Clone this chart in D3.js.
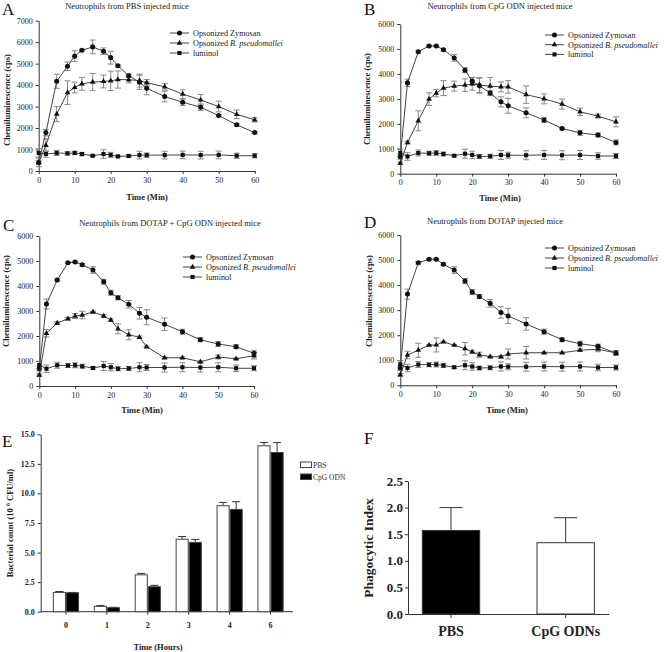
<!DOCTYPE html>
<html><head><meta charset="utf-8">
<script src="https://cdn.jsdelivr.net/npm/d3@7"></script>
<style>body{margin:0;background:#fff}svg{display:block}</style>
</head><body>
<script>
// ---------- DATA ----------
const times = [0,2,5,8,10,12,15,18,20,22,25,28,30,35,40,45,50,55,60];
const timeTicks = [0,10,20,30,40,50,60];
const seriesNames = ["Opsonized Zymosan","Opsonized B. pseudomallei","luminol"];

const zymA    = [400,1790,4180,4880,5350,5620,5780,5580,5280,4900,4440,4130,3850,3470,3200,2970,2580,2150,1790];
const zymAErr = [200,150,330,200,250,50,320,150,300,50,80,330,300,250,150,150,50,50,50];
const bpA     = [400,1200,2650,3650,3890,4060,4140,4170,4200,4260,4250,4210,4110,3920,3580,3310,3000,2640,2380];
const bpAErr  = [100,300,350,550,250,300,400,300,450,400,150,300,150,150,200,250,250,200,100];
const lumA    = [840,790,840,820,840,790,710,790,750,680,700,740,740,740,750,740,750,710,710];
const lumAErr = [200,150,120,80,80,80,40,200,120,50,60,180,100,180,180,180,180,120,100];

const zymB    = [680,3640,4890,5120,5120,4970,4640,4150,3710,3530,3230,2880,2720,2440,2150,1810,1640,1550,1250];
const zymBErr = [100,150,50,30,30,50,130,100,150,300,100,200,300,200,100,50,100,80,100];
const bpB     = [420,1250,2120,2990,3230,3430,3510,3550,3600,3550,3510,3480,3480,3170,3000,2790,2480,2310,2080];
const bpBErr  = [50,50,400,250,150,300,200,250,250,300,350,200,250,350,200,200,150,80,200];

const lum     = [840,690,830,820,830,790,720,800,750,690,700,750,740,740,750,740,750,710,710];
const lumErr  = [150,150,120,80,100,80,50,180,150,80,80,180,120,180,180,180,180,130,100];

const zymC    = [700,3280,4240,4930,4960,4850,4640,4170,3730,3530,3270,2910,2750,2470,2170,1850,1680,1570,1310];
const zymCErr = [100,200,50,30,30,50,130,100,100,80,150,230,300,250,100,80,100,80,100];
const bpC     = [440,2110,2520,2690,2800,2840,2960,2800,2640,2290,2050,1950,1570,1130,1130,970,1160,1090,1210];
const bpCErr  = [50,150,50,50,100,150,30,50,50,200,200,50,30,30,30,30,80,30,130];

const zymD    = [690,3640,4890,5030,5030,4830,4600,4160,3720,3540,3270,2910,2770,2450,2140,1820,1660,1560,1290];
const zymDErr = [100,200,50,30,30,50,130,100,100,80,150,230,300,250,100,80,100,80,100];
const bpD     = [420,1210,1400,1600,1610,1730,1600,1460,1330,1220,1140,1140,1250,1300,1300,1300,1400,1440,1290];
const bpDErr  = [50,150,280,30,280,30,30,250,50,100,30,50,200,250,30,30,50,100,80];

const hours   = ["0","1","2","3","4","6"];
const eGroups = ["PBS","CpG ODN"];
const pbsCount    = [1.63,0.45,3.12,6.13,8.96,14.03];
const pbsCountErr = [0.08,0.08,0.12,0.23,0.28,0.27];
const cpgCount    = [1.60,0.34,2.11,5.86,8.65,13.46];
const cpgCountErr = [0.03,0.03,0.12,0.25,0.65,0.84];
const eTicks = [0,2.5,5,7.5,10,12.5,15];

const fGroups = ["PBS","CpG ODNs"];
const phago    = [1.57,1.34];
const phagoErr = [0.43,0.47];
const fTicks = [0,0.5,1,1.5,2,2.5];

// ---------- DRAW ----------
const SERIF = "'Liberation Serif','Times New Roman',serif";
const svg = d3.select("body").append("svg").attr("width",664).attr("height",652)
  .style("font-family",SERIF);
svg.append("rect").attr("width",664).attr("height",652).attr("fill","#fff");

function styleAxis(sel, fs, bold){
  sel.selectAll("path,line").attr("stroke","#333").attr("stroke-width",1);
  sel.selectAll("text").attr("font-family",SERIF).attr("font-size",fs).attr("fill","#222")
     .attr("font-weight",bold?"bold":"normal");
}

function letter(t,x,y){
  svg.append("text").attr("x",x).attr("y",y).attr("font-size",17).attr("fill","#111").text(t);
}

function lineChart(o){
  const g = svg.append("g");
  const x = d3.scaleLinear().domain([0,60]).range([o.x0,o.x1]);
  const y = d3.scaleLinear().domain([0,o.ymax]).range([o.y0,o.y1]);
  const xa = g.append("g").attr("transform",`translate(0,${o.y0})`)
    .call(d3.axisBottom(x).tickValues(timeTicks).tickSize(3).tickSizeOuter(0).tickPadding(3));
  styleAxis(xa,8,false);
  const ya = g.append("g").attr("transform",`translate(${o.x0},0)`)
    .call(d3.axisLeft(y).tickValues(d3.range(0,o.ymax+1,1000)).tickFormat(d3.format("d")).tickSize(3).tickSizeOuter(0).tickPadding(3));
  styleAxis(ya,8,false);
  g.append("text").attr("x",o.titleX).attr("y",o.titleY).attr("text-anchor","middle")
    .attr("font-size",8.5).attr("fill","#222").text(o.title);
  g.append("text").attr("transform",`translate(${o.ylabX},${o.ylabY}) rotate(-90)`)
    .attr("text-anchor","middle").attr("font-size",8.5).attr("font-weight","bold").attr("fill","#222")
    .text("Chemiluminescence (cps)");
  g.append("text").attr("x",o.xlabX).attr("y",o.xlabY).attr("text-anchor","middle")
    .attr("font-size",8.5).attr("font-weight","bold").attr("fill","#222").text("Time (Min)");

  const syms = [d3.symbolCircle,d3.symbolTriangle,d3.symbolSquare];
  const sizes = [20,14,17];
  const line = d3.line().x((d,i)=>x(times[i])).y(d=>y(d));
  o.series.forEach((s,k)=>{
    const eg = g.append("g");
    s.v.forEach((v,i)=>{
      const e = s.e[i], cx = x(times[i]);
      eg.append("line").attr("x1",cx).attr("x2",cx).attr("y1",y(v-e)).attr("y2",y(v+e)).attr("stroke","#888").attr("stroke-width",1);
      [v-e,v+e].forEach(w=>eg.append("line").attr("x1",cx-3).attr("x2",cx+3).attr("y1",y(w)).attr("y2",y(w)).attr("stroke","#888").attr("stroke-width",1));
    });
  });
  o.series.forEach((s,k)=>{
    g.append("path").datum(s.v).attr("d",line).attr("fill","none").attr("stroke","#444").attr("stroke-width",1);
    g.selectAll(null).data(s.v).enter().append("path")
      .attr("d",d3.symbol().type(syms[k]).size(sizes[k]))
      .attr("transform",(d,i)=>`translate(${x(times[i])},${y(d)})`).attr("fill","#111");
  });
  // legend
  seriesNames.forEach((nm,k)=>{
    const ly = o.legY + k*o.legDy;
    g.append("line").attr("x1",o.legX).attr("x2",o.legX+19).attr("y1",ly).attr("y2",ly).attr("stroke","#444");
    g.append("path").attr("d",d3.symbol().type(syms[k]).size(sizes[k])).attr("transform",`translate(${o.legX+9.5},${ly})`).attr("fill","#111");
    const t = g.append("text").attr("x",o.legX+23).attr("y",ly+3).attr("font-size",8.2).attr("fill","#222");
    if(k===1){
      t.append("tspan").text("Opsonized ");
      t.append("tspan").attr("font-style","italic").text("B. pseudomallei");
    } else t.text(nm);
  });
}

lineChart({x0:38.7,x1:254.7,y0:171,y1:20.7,ymax:7000,title:"Neutrophils from PBS injected mice",titleX:127,titleY:9,
  ylabX:10,ylabY:100,xlabX:147,xlabY:200,legX:170,legY:33,legDy:10,
  series:[{v:zymA,e:zymAErr},{v:bpA,e:bpAErr},{v:lumA,e:lumAErr}]});
lineChart({x0:400.3,x1:616,y0:173.7,y1:24,ymax:6000,title:"Neutrophils from CpG ODN injected mice",titleX:500,titleY:9,
  ylabX:370,ylabY:99,xlabX:500,xlabY:201,legX:545,legY:35,legDy:9.7,
  series:[{v:zymB,e:zymBErr},{v:bpB,e:bpBErr},{v:lum,e:lumErr}]});
lineChart({x0:39.3,x1:254,y0:386,y1:236,ymax:6000,title:"Neutrophils from DOTAP + CpG ODN injected mice",titleX:170,titleY:226,
  ylabX:9,ylabY:301,xlabX:142,xlabY:413,legX:183,legY:257,legDy:10,
  series:[{v:zymC,e:zymCErr},{v:bpC,e:bpCErr},{v:lum,e:lumErr}]});
lineChart({x0:400.3,x1:616,y0:385.3,y1:235,ymax:6000,title:"Neutrophils from DOTAP injected mice",titleX:495,titleY:224,
  ylabX:372,ylabY:301,xlabX:507,xlabY:413,legX:545,legY:248,legDy:10,
  series:[{v:zymD,e:zymDErr},{v:bpD,e:bpDErr},{v:lum,e:lumErr}]});

letter("A",2,15); letter("B",364,15); letter("C",3,231); letter("D",364,228); letter("E",2,447); letter("F",364,444);

// ---------- Panel E ----------
(function(){
  const g = svg.append("g");
  const x = d3.scaleBand().domain(hours).range([45.5,291]).paddingInner(0.36).paddingOuter(0.18);
  const xs = d3.scaleBand().domain(eGroups).range([0,x.bandwidth()]);
  const y = d3.scaleLinear().domain([0,15]).range([611.7,434.3]);
  const xa = g.append("g").attr("transform","translate(0,611.7)")
    .call(d3.axisBottom(x).tickSize(3).tickPadding(8).tickSizeOuter(0));
  xa.select(".domain").attr("d","M40.7,0H293");
  styleAxis(xa,8,true);
  const ya = g.append("g").attr("transform","translate(40.7,0)")
    .call(d3.axisLeft(y).tickValues(eTicks).tickFormat(d3.format(".1f")).tickSize(3).tickSizeOuter(0));
  styleAxis(ya,8,true);
  const sets = [{v:pbsCount,e:pbsCountErr,fill:"#fff"},{v:cpgCount,e:cpgCountErr,fill:"#000"}];
  sets.forEach((s,k)=>{
    hours.forEach((h,i)=>{
      const bx = x(h)+xs(eGroups[k]), bw = xs.bandwidth(), cx = bx+bw/2;
      g.append("line").attr("x1",cx).attr("x2",cx).attr("y1",y(s.v[i])).attr("y2",y(s.v[i]+s.e[i])).attr("stroke","#333");
      g.append("line").attr("x1",cx-4).attr("x2",cx+4).attr("y1",y(s.v[i]+s.e[i])).attr("y2",y(s.v[i]+s.e[i])).attr("stroke","#333");
      g.append("rect").attr("x",bx+0.5).attr("y",y(s.v[i])).attr("width",bw-1).attr("height",y(0)-y(s.v[i]))
        .attr("fill",s.fill).attr("stroke","#444").attr("stroke-width",1);
    });
  });
  g.append("text").attr("transform","translate(13,523) rotate(-90)").attr("text-anchor","middle")
    .attr("font-size",8.5).attr("font-weight","bold").attr("fill","#222")
    .call(t=>{t.append("tspan").text("Bacterial count (10 ");
      t.append("tspan").attr("font-size",6).attr("dy",-3).text("6");
      t.append("tspan").attr("dy",3).text(" CFU/ml)");});
  g.append("text").attr("x",158).attr("y",650).attr("text-anchor","middle").attr("font-size",8.5)
    .attr("font-weight","bold").attr("fill","#222").text("Time (Hours)");
  // legend
  eGroups.forEach((nm,k)=>{
    const ly = 462 + k*12;
    g.append("rect").attr("x",300.5).attr("y",ly).attr("width",11).attr("height",5.5)
      .attr("fill",sets[k].fill).attr("stroke","#444");
    g.append("text").attr("x",313).attr("y",ly+6).attr("font-size",7.5).attr("fill","#333").text(nm);
  });
})();

// ---------- Panel F ----------
(function(){
  const g = svg.append("g");
  const x = d3.scaleBand().domain(fGroups).range([408,608.7]).paddingInner(0.5).paddingOuter(0.125);
  const y = d3.scaleLinear().domain([0,2.5]).range([614,481]);
  const xa = g.append("g").attr("transform","translate(0,614)")
    .call(d3.axisBottom(x).tickSize(4).tickPadding(8).tickSizeOuter(0));
  styleAxis(xa,14,true);
  const ya = g.append("g").attr("transform","translate(408,0)")
    .call(d3.axisLeft(y).tickValues(fTicks).tickFormat(d3.format(".1f")).tickSize(3).tickPadding(2).tickSizeOuter(0));
  styleAxis(ya,13,true);
  const fills = ["#000","#fff"];
  fGroups.forEach((gname,i)=>{
    const bx = x(gname), bw = x.bandwidth(), cx = bx+bw/2;
    g.append("line").attr("x1",cx).attr("x2",cx).attr("y1",y(phago[i])).attr("y2",y(phago[i]+phagoErr[i])).attr("stroke","#333");
    g.append("line").attr("x1",cx-11.5).attr("x2",cx+11.5).attr("y1",y(phago[i]+phagoErr[i])).attr("y2",y(phago[i]+phagoErr[i])).attr("stroke","#333");
    g.append("rect").attr("x",bx).attr("y",y(phago[i])).attr("width",bw).attr("height",y(0)-y(phago[i]))
      .attr("fill",fills[i]).attr("stroke","#333").attr("stroke-width",1);
  });
  g.append("text").attr("transform","translate(373,548) rotate(-90)").attr("text-anchor","middle")
    .attr("font-size",13.5).attr("font-weight","bold").attr("fill","#222").text("Phagocytic Index");
})();
</script>
</body></html>
